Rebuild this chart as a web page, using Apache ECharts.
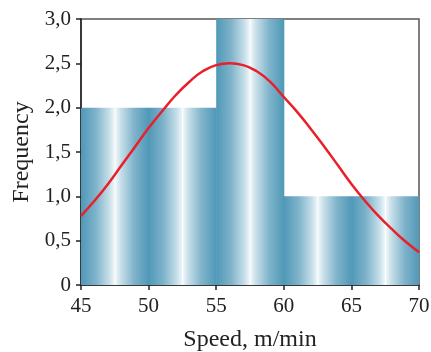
<!DOCTYPE html>
<html><head><meta charset="utf-8">
<script src="https://cdn.jsdelivr.net/npm/echarts@6/dist/echarts.min.js"></script>
<style>html,body{margin:0;padding:0;background:#fff}#c{width:431px;height:352px}</style>
</head><body><div id="c"></div>
<script>
// Histogram bins
const binStart = [45, 55, 60];
const binEnd = [55, 60, 70];
const frequency = [2, 3, 1];
// Fitted curve
const curveX = [45,46,47,48,49,50,51,52,53,54,55,56,57,58,59,60,61,62,63,64,65,66,67,68,69,70];
const curveY = [0.78,0.95,1.14,1.35,1.56,1.77,1.96,2.14,2.29,2.41,2.48,2.50,2.48,2.41,2.29,2.12,1.95,1.76,1.56,1.35,1.14,0.95,0.78,0.63,0.49,0.37];
const xTicks = [45,50,55,60,65,70];
const yTicks = [0,0.5,1,1.5,2,2.5,3];

const chart = echarts.init(document.getElementById('c'), null, {renderer:'canvas'});
const FONT = '"Liberation Serif", "DejaVu Serif", serif';
const stripe = 5;
function grad(){
  return new echarts.graphic.LinearGradient(0,0,1,0,[
    {offset:0, color:'#4f98b7'},
    {offset:0.22, color:'#7fb3ca'},
    {offset:0.42, color:'#c9e0ea'},
    {offset:0.49, color:'#eef6f9'},
    {offset:0.5, color:'#ffffff'},
    {offset:0.51, color:'#eef6f9'},
    {offset:0.58, color:'#c9e0ea'},
    {offset:0.78, color:'#7fb3ca'},
    {offset:1, color:'#4f98b7'}
  ]);
}
const barData = binStart.map((s,i)=>[s, binEnd[i], frequency[i]]);
chart.setOption({
  animation:false,
  grid:{left:81, right:12, top:19, bottom:67, containLabel:false, outerBoundsMode:'none',
    show:true, borderColor:'#555', borderWidth:1.5, backgroundColor:'transparent'},
  xAxis:{type:'value', min:45, max:70, interval:5,
    axisLine:{show:true, onZero:false, lineStyle:{color:'#222', width:1.5}},
    axisTick:{show:true, length:5, lineStyle:{color:'#222', width:1.5}},
    splitLine:{show:false},
    axisLabel:{color:'#222', fontFamily:FONT, fontSize:21, margin:11,
      formatter:v=>xTicks.includes(v)?String(v):''},
    name:'Speed, m/min', nameLocation:'middle', nameGap:43,
    nameTextStyle:{color:'#222', fontFamily:FONT, fontSize:24}
  },
  yAxis:{type:'value', min:0, max:3, interval:0.5,
    axisLine:{show:true, lineStyle:{color:'#222', width:1.5}},
    axisTick:{show:true, length:5, lineStyle:{color:'#222', width:1.5}},
    splitLine:{show:false},
    axisLabel:{color:'#222', fontFamily:FONT, fontSize:21, margin:10,
      formatter:v=>v===0?'0':v.toFixed(1).replace('.',',')},
    name:'Frequency', nameLocation:'middle', nameGap:47,
    nameTextStyle:{color:'#222', fontFamily:FONT, fontSize:24}
  },
  series:[
    {type:'custom', z:1, clip:true,
      renderItem:(params, api)=>{
        const s = api.value(0), e = api.value(1), f = api.value(2);
        const children = [];
        for(let a=s; a<e-1e-9; a+=stripe){
          const p0 = api.coord([a, f]);
          const p1 = api.coord([a+stripe, 0]);
          children.push({type:'rect', shape:{x:p0[0], y:p0[1], width:p1[0]-p0[0]+0.5, height:p1[1]-p0[1]},
            style:{fill:grad()}});
        }
        return {type:'group', children};
      },
      encode:{x:[0,1], y:2},
      data:barData
    },
    {type:'line', z:3, smooth:0.5, showSymbol:false,
      lineStyle:{color:'#e8202a', width:2.5},
      data:curveX.map((x,i)=>[x, curveY[i]])
    }
  ]
});
</script></body></html>
